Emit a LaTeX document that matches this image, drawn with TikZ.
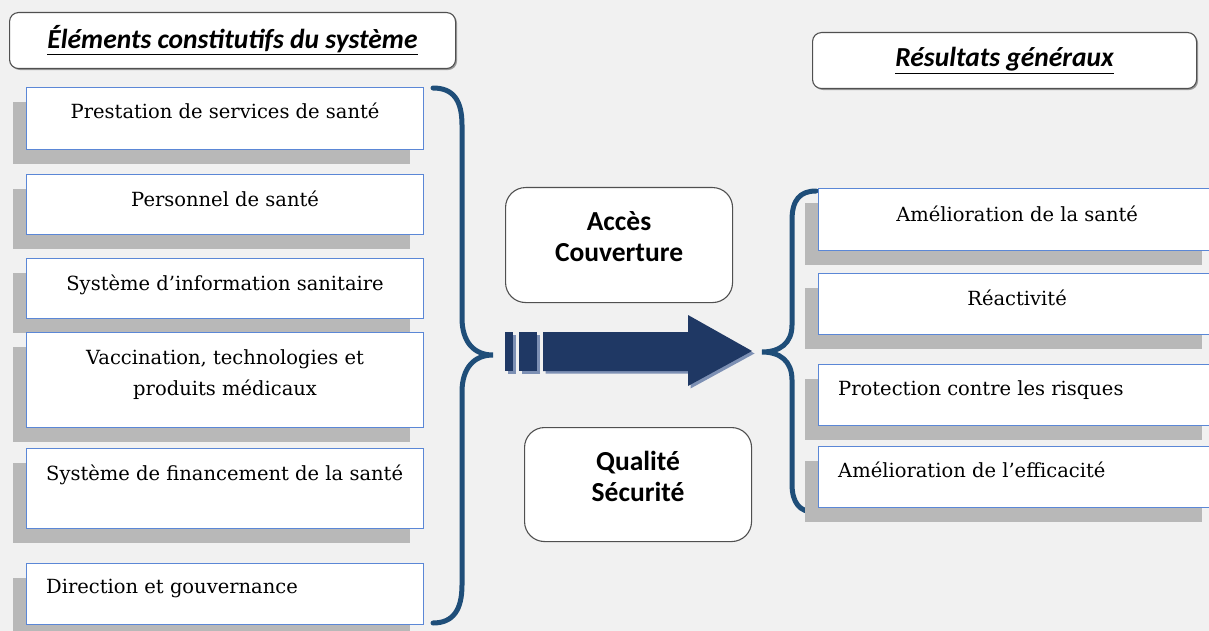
\documentclass[tikz,border=0pt]{standalone}
\usepackage{fontspec}
\setmainfont{DejaVu Serif}
\newfontfamily\hdfont{Carlito}
\usetikzlibrary{shadows}
\definecolor{bg}{HTML}{F1F1F1}
\definecolor{shade}{HTML}{B8B8B8}
\definecolor{boxline}{HTML}{5B87D6}
\definecolor{bracecol}{HTML}{1F4E79}
\definecolor{arrowcol}{HTML}{1F3864}
\definecolor{arrowshade}{HTML}{7D90B4}
\definecolor{titleline}{HTML}{505050}
\begin{document}
\begin{tikzpicture}[x=1pt,y=-1pt,
  elem/.style={draw=boxline, line width=1.2pt, fill=white, minimum width=397pt,
    minimum height=#1, anchor=north west, inner sep=0pt,
    drop shadow={shadow xshift=-14pt, shadow yshift=-14pt, fill=shade, opacity=1}},
  etext/.style={font=\fontsize{19.5}{31}\selectfont, align=center, inner sep=0pt},
  titlebox/.style={draw=titleline, line width=1.1pt, fill=white, rounded corners=9pt,
    anchor=north west, inner sep=0pt, minimum width=#1, minimum height=56pt,
    drop shadow={shadow xshift=1.5pt, shadow yshift=-1.5pt, fill=black, opacity=0.35}},
  titletext/.style={font=\hdfont\bfseries\itshape\fontsize{27.5}{30}\selectfont},
  midbox/.style={draw=titleline, line width=1.1pt, fill=white, rounded corners=20pt,
    anchor=north west, inner sep=0pt, minimum width=227pt, minimum height=115pt},
  midtext/.style={font=\hdfont\bfseries\fontsize{27.5}{31}\selectfont, align=center, inner sep=0pt},
  brace/.style={draw=bracecol, line width=5pt, line cap=round}
]
\fill[bg] (0,0) rectangle (1209,631);
\useasboundingbox (0,0) rectangle (1209,631);
\clip (0,0) rectangle (1209,631);

% titles
\node[titlebox=446pt] (t1) at (9,12) {};
\node[titletext] at (t1.center) {\underline{Éléments constitutifs du système}};
\node[titlebox=384pt] (t2) at (812,32) {};
\node[titletext] at (t2.center) {\underline{Résultats généraux}};

% braces (drawn first)
\coordinate (lb1) at (433,88);
\coordinate (lbtip) at (493,355);
\coordinate (lb2) at (433,623);
\draw[brace] (lb1) .. controls (453,88) and (462,100) .. (462,125) -- (462,318)
  .. controls (462,342) and (474,355) .. (lbtip)
  .. controls (474,355) and (462,368) .. (462,392) -- (462,585)
  .. controls (462,610) and (453,623) .. (lb2);

\coordinate (rb1) at (816,191);
\coordinate (rbtip) at (762,352);
\coordinate (rb2) at (814,512);
\draw[brace] (rb1) .. controls (800,191) and (792,200) .. (792,220) -- (792,325)
  .. controls (792,343) and (780,352) .. (rbtip)
  .. controls (780,352) and (792,361) .. (792,380) -- (792,484)
  .. controls (792,503) and (800,512) .. (rb2);

% left element boxes
\node[elem=62pt] (l1) at (26,87) {};
\node[etext, anchor=north] at ([yshift=-16pt]l1.north) {Prestation de services de santé};
\node[elem=60pt] (l2) at (26,174) {};
\node[etext, anchor=north] at ([yshift=-17pt]l2.north) {Personnel de santé};
\node[elem=60pt] (l3) at (26,258) {};
\node[etext, anchor=north] at ([yshift=-17pt]l3.north) {Système d’information sanitaire};
\node[elem=95pt] (l4) at (26,332) {};
\node[etext, anchor=north] at ([yshift=-17pt]l4.north) {Vaccination, technologies et\\produits médicaux};
\node[elem=80pt] (l5) at (26,448) {};
\node[etext, anchor=north west] at ([xshift=20pt,yshift=-17pt]l5.north west) {Système de financement de la santé};
\node[elem=61pt] (l6) at (26,563) {};
\node[etext, anchor=north west] at ([xshift=20pt,yshift=-16pt]l6.north west) {Direction et gouvernance};

% right result boxes
\node[elem=62pt] (r1) at (818,188) {};
\node[etext, anchor=north] at ([yshift=-18pt]r1.north) {Amélioration de la santé};
\node[elem=61pt] (r2) at (818,273) {};
\node[etext, anchor=north] at ([yshift=-17pt]r2.north) {Réactivité};
\node[elem=61pt] (r3) at (818,364) {};
\node[etext, anchor=north west] at ([xshift=20pt,yshift=-16pt]r3.north west) {Protection contre les risques};
\node[elem=61pt] (r4) at (818,446) {};
\node[etext, anchor=north west] at ([xshift=20pt,yshift=-16pt]r4.north west) {Amélioration de l’efficacité};

% middle boxes
\node[midbox] (m1) at (505,187) {};
\node[midtext] at ([yshift=8pt]m1.center) {Accès\\Couverture};
\node[midbox, minimum height=114pt] (m2) at (524,427) {};
\node[midtext] at ([yshift=8pt]m2.center) {Qualité\\Sécurité};

% big arrow
\begin{scope}[shift={(2.5,2.5)}]
  \fill[arrowshade] (505,332) rectangle (513,371);
  \fill[arrowshade] (519,332) rectangle (537,371);
  \fill[arrowshade] (543,332) -- (688,332) -- (688,315) -- (752,351) -- (688,386) -- (688,371) -- (543,371) -- cycle;
\end{scope}
\fill[arrowcol] (505,332) rectangle (513,371);
\fill[arrowcol] (519,332) rectangle (537,371);
\fill[arrowcol] (543,332) -- (688,332) -- (688,315) -- (752,351) -- (688,386) -- (688,371) -- (543,371) -- cycle;
\end{tikzpicture}
\end{document}
